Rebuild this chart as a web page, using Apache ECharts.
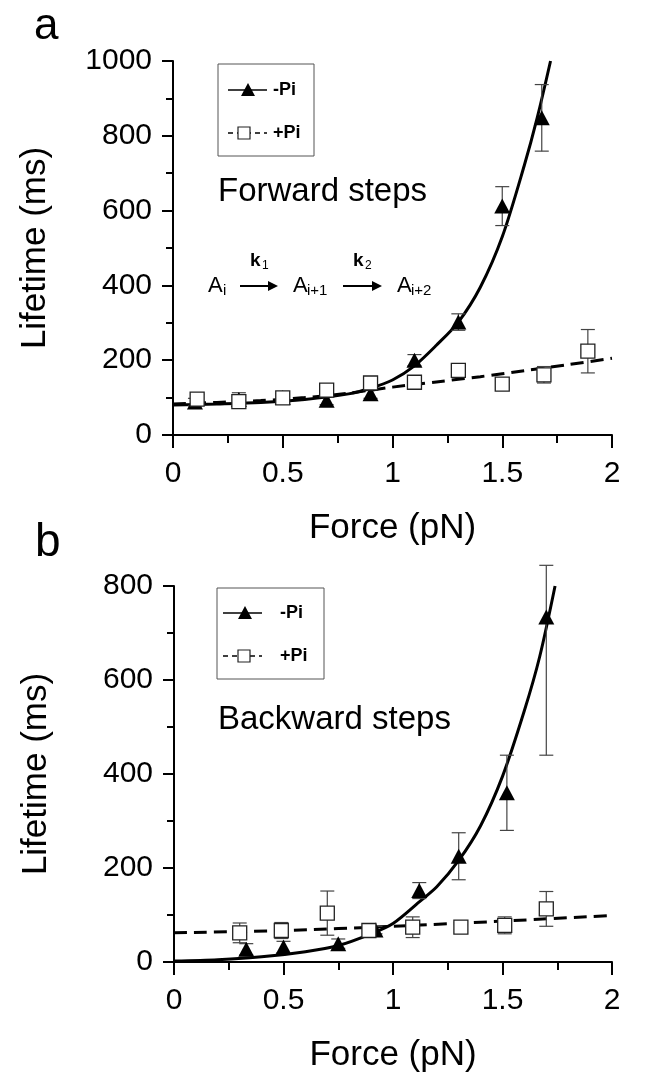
<!DOCTYPE html>
<html><head><meta charset="utf-8">
<script src="https://cdn.jsdelivr.net/npm/echarts@6/dist/echarts.min.js"></script>
<style>html,body{margin:0;padding:0;background:#fff}#c{width:647px;height:1084px}</style>
</head><body><div id="c"></div>
<script>
// ---------- Panel a: forward steps ----------
const forceA_minus = [0.1, 0.3, 0.5, 0.7, 0.9, 1.1, 1.3, 1.5, 1.68];
const lifeA_minus  = [88, 95, 100, 93, 110, 200, 302, 612, 848];
const errA_minus   = [10, 18, 10, 12, 12, 15, 22, 52, 89];

const forceA_plus = [0.11, 0.3, 0.5, 0.7, 0.9, 1.1, 1.3, 1.5, 1.69, 1.89];
const lifeA_plus  = [96, 89, 99, 120, 139, 141, 173, 136, 161, 224];
const errA_plus   = [12, 14, 12, 8, 8, 8, 8, 8, 22, 58];

const fitA_minus_x = [0, 0.2, 0.4, 0.6, 0.8, 0.9, 1.0, 1.1, 1.2, 1.3, 1.4, 1.5, 1.6, 1.66, 1.72];
const fitA_minus_y = [80, 83, 87, 95, 110, 125, 147, 185, 240, 302, 395, 530, 720, 850, 1000];
const fitA_plus_x = [0, 0.2, 0.4, 0.6, 0.8, 1.0, 1.2, 1.4, 1.6, 1.8, 2.0];
const fitA_plus_y = [83, 87, 92, 100, 112, 128, 142, 156, 172, 188, 205];

// ---------- Panel b: backward steps ----------
const forceB_minus = [0.33, 0.5, 0.75, 0.92, 1.12, 1.3, 1.52, 1.7];
const lifeB_minus  = [27, 32, 39, 68, 152, 225, 360, 734];
const errB_minus_lo = [12, 12, 10, 8, 17, 50, 80, 294];
const errB_minus_hi = [12, 12, 10, 8, 17, 50, 80, 110];

const forceB_plus = [0.3, 0.49, 0.7, 0.89, 1.09, 1.31, 1.51, 1.7];
const lifeB_plus  = [62, 67, 104, 67, 74, 74, 78, 113];
const errB_plus   = [21, 17, 47, 8, 22, 5, 18, 37];

const fitB_minus_x = [0, 0.2, 0.4, 0.6, 0.75, 0.9, 1.0, 1.12, 1.2, 1.3, 1.4, 1.5, 1.6, 1.67, 1.74];
const fitB_minus_y = [2, 5, 11, 22, 35, 60, 82, 128, 160, 216, 290, 395, 535, 650, 800];
const fitB_plus_x = [0, 0.5, 1.0, 1.5, 2.0];
const fitB_plus_y = [62, 67, 76, 87, 99];

// ---------- axes ticks ----------
const xTicks = [0, 0.5, 1, 1.5, 2];
const yTicksA = [0, 200, 400, 600, 800, 1000];
const yTicksB = [0, 200, 400, 600, 800];

const FONT = '"Liberation Sans", Arial, Helvetica, sans-serif';
const chart = echarts.init(document.getElementById('c'), null, {renderer: 'canvas'});

function zip(xs, ys) { return xs.map((x, i) => [x, ys[i]]); }
function errData(xs, ys, lo, hi) { return xs.map((x, i) => [x, ys[i] - lo[i], ys[i] + hi[i]]); }
function errSeries(data, gi, cap) {
  return {
    type: 'custom', xAxisIndex: gi, yAxisIndex: gi, data: data, z: 3, silent: true, clip: false,
    encode: {x: 0, y: [1, 2]},
    renderItem: function (params, api) {
      const x = api.value(0);
      const a = api.coord([x, api.value(1)]);
      const b = api.coord([x, api.value(2)]);
      const st = {stroke: '#444', lineWidth: 1.2, fill: null};
      return {type: 'group', children: [
        {type: 'line', shape: {x1: a[0], y1: a[1], x2: b[0], y2: b[1]}, style: st},
        {type: 'line', shape: {x1: a[0] - cap, y1: a[1], x2: a[0] + cap, y2: a[1]}, style: st},
        {type: 'line', shape: {x1: b[0] - cap, y1: b[1], x2: b[0] + cap, y2: b[1]}, style: st}
      ]};
    }
  };
}
function xAxis(gi) {
  return {
    type: 'value', gridIndex: gi, min: xTicks[0], max: xTicks[xTicks.length - 1], interval: 0.5,
    name: 'Force (pN)', nameLocation: 'middle', nameGap: 76,
    nameTextStyle: {fontFamily: FONT, fontSize: 35, color: '#000'},
    axisLine: {show: true, onZero: false, lineStyle: {color: '#000', width: 2}},
    axisTick: {show: true, inside: false, length: 13, lineStyle: {color: '#000', width: 2}},
    minorTick: {show: true, splitNumber: 2, length: 8, lineStyle: {color: '#000', width: 2}},
    axisLabel: {fontFamily: FONT, fontSize: 30, color: '#000', margin: 24, formatter: v => String(v)},
    splitLine: {show: false}, minorSplitLine: {show: false}
  };
}
function yAxis(gi, ticks) {
  return {
    type: 'value', gridIndex: gi, min: ticks[0], max: ticks[ticks.length - 1], interval: 200,
    name: 'Lifetime (ms)', nameLocation: 'middle', nameGap: 120, nameRotate: 90,
    nameTextStyle: {fontFamily: FONT, fontSize: 35, color: '#000'},
    axisLine: {show: true, onZero: false, lineStyle: {color: '#000', width: 2}},
    axisTick: {show: true, inside: false, length: 11, lineStyle: {color: '#000', width: 2}},
    minorTick: {show: true, splitNumber: 2, length: 7, lineStyle: {color: '#000', width: 2}},
    axisLabel: {fontFamily: FONT, fontSize: 30, color: '#000', margin: 21, formatter: v => String(v)},
    splitLine: {show: false}, minorSplitLine: {show: false}
  };
}
function fitLine(xs, ys, gi, dashed) {
  return {
    type: 'line', xAxisIndex: gi, yAxisIndex: gi, data: zip(xs, ys), smooth: 0.3,
    symbol: 'none', z: 2, silent: true, clip: false,
    lineStyle: {color: '#000', width: 3, type: dashed ? [13, 7] : 'solid', opacity: 1}
  };
}
function triSeries(xs, ys, gi) {
  return {type: 'scatter', xAxisIndex: gi, yAxisIndex: gi, data: zip(xs, ys), symbol: 'triangle',
    symbolSize: [16, 15], z: 4, silent: true, itemStyle: {color: '#000', opacity: 1}};
}
function sqSeries(xs, ys, gi) {
  return {type: 'scatter', xAxisIndex: gi, yAxisIndex: gi, data: zip(xs, ys), symbol: 'rect',
    symbolSize: 14, z: 5, silent: true, itemStyle: {color: '#fff', borderColor: '#222', borderWidth: 1.3, opacity: 1}};
}

function txt(x, y, text, size, opts) {
  opts = opts || {};
  return {type: 'text', x: x, y: y, z: 10, silent: true, style: {
    text: text, fontFamily: FONT, fontSize: size, fontWeight: opts.bold ? 'bold' : 'normal',
    fill: '#000', align: opts.align || 'left', verticalAlign: 'middle'}};
}
function legendBox(x, y, w, h, lx0, lx1, triX, sqX, textX, y1, y2) {
  return [
    {type: 'rect', shape: {x: x, y: y, width: w, height: h}, z: 9, silent: true,
      style: {fill: null, stroke: '#555', lineWidth: 1}},
    {type: 'line', shape: {x1: lx0, y1: y1, x2: lx1, y2: y1}, z: 10, silent: true,
      style: {stroke: '#000', lineWidth: 1.5}},
    {type: 'polygon', shape: {points: [[triX - 7, y1 + 6], [triX + 7, y1 + 6], [triX, y1 - 7]]}, z: 11, silent: true,
      style: {fill: '#000'}},
    txt(textX, y1, '-Pi', 18, {bold: true}),
    {type: 'line', shape: {x1: lx0, y1: y2, x2: lx1, y2: y2}, z: 10, silent: true,
      style: {stroke: '#000', lineWidth: 1.5, lineDash: [5, 4]}},
    {type: 'rect', shape: {x: sqX - 6, y: y2 - 6, width: 12, height: 12}, z: 11, silent: true,
      style: {fill: '#fff', stroke: '#222', lineWidth: 1.2}},
    txt(textX, y2, '+Pi', 18, {bold: true})
  ];
}
function arrow(x0, x1, y) {
  return [
    {type: 'line', shape: {x1: x0, y1: y, x2: x1 - 8, y2: y}, z: 10, silent: true, style: {stroke: '#000', lineWidth: 2}},
    {type: 'polygon', shape: {points: [[x1 - 10, y - 5], [x1, y], [x1 - 10, y + 5]]}, z: 10, silent: true, style: {fill: '#000'}}
  ];
}

const graphics = [].concat(
  [txt(34, 27, 'a', 44), txt(35, 543, 'b', 46)],
  legendBox(218, 64, 96, 92, 228, 267, 248, 244, 273, 90, 133),
  legendBox(217, 588, 107, 91, 223, 262, 245, 244, 280, 613, 656),
  [txt(218, 192, 'Forward steps', 33), txt(218, 720, 'Backward steps', 33)],
  [txt(208, 286, 'A', 22), txt(223, 291, 'i', 15),
   txt(293, 286, 'A', 22), txt(307, 291, 'i+1', 15),
   txt(397, 286, 'A', 22), txt(411, 291, 'i+2', 15),
   txt(250, 261, 'k', 19, {bold: true}), txt(262, 266, '1', 12),
   txt(353, 261, 'k', 19, {bold: true}), txt(365, 266, '2', 12)],
  arrow(240, 278, 286), arrow(343, 382, 286)
);

chart.setOption({
  animation: false,
  backgroundColor: '#fff',
  grid: [
    {left: 173, top: 61, width: 439, height: 374},
    {left: 174, top: 586, width: 438, height: 376}
  ],
  xAxis: [xAxis(0), xAxis(1)],
  yAxis: [yAxis(0, yTicksA), yAxis(1, yTicksB)],
  graphic: graphics,
  series: [
    fitLine(fitA_minus_x, fitA_minus_y, 0, false),
    fitLine(fitA_plus_x, fitA_plus_y, 0, true),
    errSeries(errData(forceA_minus, lifeA_minus, errA_minus, errA_minus), 0, 7),
    errSeries(errData(forceA_plus, lifeA_plus, errA_plus, errA_plus), 0, 7),
    triSeries(forceA_minus, lifeA_minus, 0),
    sqSeries(forceA_plus, lifeA_plus, 0),

    fitLine(fitB_minus_x, fitB_minus_y, 1, false),
    fitLine(fitB_plus_x, fitB_plus_y, 1, true),
    errSeries(errData(forceB_minus, lifeB_minus, errB_minus_lo, errB_minus_hi), 1, 7),
    errSeries(errData(forceB_plus, lifeB_plus, errB_plus, errB_plus), 1, 7),
    triSeries(forceB_minus, lifeB_minus, 1),
    sqSeries(forceB_plus, lifeB_plus, 1)
  ]
});
</script></body></html>
